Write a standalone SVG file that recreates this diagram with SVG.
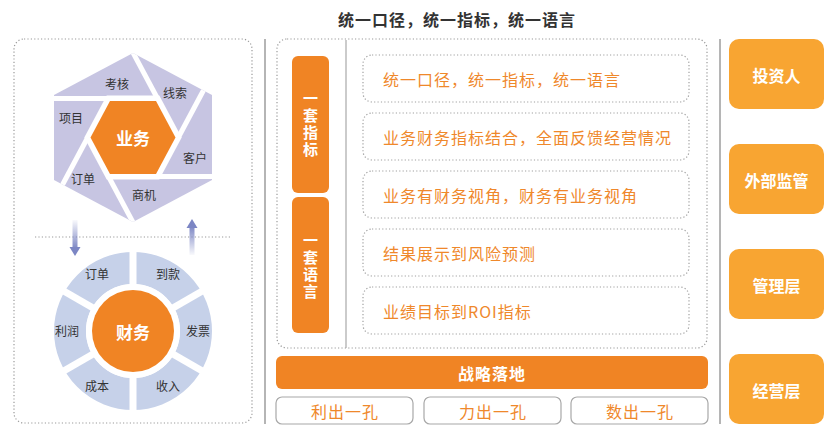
<svg xmlns="http://www.w3.org/2000/svg" width="836" height="436" viewBox="0 0 836 436">
<style>
text{font-family:"Noto Sans CJK SC","Noto Sans",sans-serif;}
.dot{fill:none;stroke:#9a9a9a;stroke-width:1.2;stroke-dasharray:1.2 2.2;}
.vline{stroke:#9c9c9c;stroke-width:1.5;}
.lbl{font-size:12px;fill:#333;text-anchor:middle;dominant-baseline:central;}
.ctr{font-size:17px;font-weight:bold;fill:#fff;text-anchor:middle;dominant-baseline:central;}
.gap{stroke:#fff;stroke-width:5;}
.rgap{stroke:#fff;stroke-width:7;}
.bar{fill:#F08424;}
.bartxt{font-size:15px;font-weight:bold;fill:#fff;text-anchor:middle;writing-mode:vertical-rl;letter-spacing:2px;}
.item{fill:#fff;stroke:#a0a0a0;stroke-width:1.2;stroke-dasharray:1.2 2.2;}
.itxt{font-size:16px;fill:#EF882B;letter-spacing:1px;dominant-baseline:central;}
.btm{fill:#fff;stroke:#a8a8a8;stroke-width:1.2;}
.btxt{font-size:16px;fill:#EF882B;letter-spacing:1px;text-anchor:middle;dominant-baseline:central;}
.rbox{fill:#F8A532;}
.rtxt{font-size:16px;font-weight:bold;fill:#fff;text-anchor:middle;dominant-baseline:central;}
</style>
<defs>
<clipPath id="hexclip"><polygon points="133,53 212,95 212,180 133,222 54,180 54,95"/></clipPath>
<linearGradient id="gdown" x1="0" y1="0" x2="0" y2="1"><stop offset="0" stop-color="#7C86C4" stop-opacity="0.05"/><stop offset="1" stop-color="#7C86C4"/></linearGradient>
<linearGradient id="gup" x1="0" y1="0" x2="0" y2="1"><stop offset="0" stop-color="#7C86C4"/><stop offset="1" stop-color="#7C86C4" stop-opacity="0.05"/></linearGradient>
</defs>

<text x="457" y="19" font-size="16" font-weight="bold" fill="#333" text-anchor="middle" dominant-baseline="central" letter-spacing="1">统一口径，统一指标，统一语言</text>

<g id="frames">
<rect class="dot" x="14" y="39" width="238" height="384" rx="10"/>
<line class="dot" x1="35" y1="237" x2="231" y2="237"/>
<line class="vline" x1="265" y1="39" x2="265" y2="424"/>
<line class="vline" x1="720" y1="39" x2="720" y2="424"/>
<rect class="dot" x="277" y="39" width="430" height="309" rx="10"/>
<line x1="346" y1="40" x2="346" y2="348" stroke="#a8a8a8" stroke-width="1.2"/>
</g>

<g id="business">
<polygon points="133,53 212,95 212,180 133,222 54,180 54,95" fill="#C7C5E2"/>
<g clip-path="url(#hexclip)">
<line class="gap" x1="157.5" y1="98.5" x2="118.5" y2="25.5"/>
<line class="gap" x1="108.5" y1="98.5" x2="30" y2="98.5"/>
<line class="gap" x1="87.7" y1="137.5" x2="48.7" y2="210.5"/>
<line class="gap" x1="108.5" y1="176.5" x2="147.5" y2="249.5"/>
<line class="gap" x1="157.5" y1="176.5" x2="236" y2="176.5"/>
<line class="gap" x1="178.3" y1="137.5" x2="217.3" y2="64.5"/>
</g>
<polygon points="181.7,137.5 159.3,95.5 106.7,95.5 84.3,137.5 106.7,179.5 159.3,179.5" fill="#fff"/>
<polygon points="175.5,137.5 156,101 110,101 90.5,137.5 110,174 156,174" fill="#F08424"/>
<text class="ctr" x="133" y="137.5">业务</text>
<text class="lbl" x="117" y="83">考核</text>
<text class="lbl" x="175" y="92">线索</text>
<text class="lbl" x="71" y="117">项目</text>
<text class="lbl" x="195" y="157">客户</text>
<text class="lbl" x="83" y="178">订单</text>
<text class="lbl" x="144" y="194">商机</text>
</g>

<g id="finance">
<circle cx="133" cy="331" r="63" fill="none" stroke="#C6D1E9" stroke-width="32"/>
<line class="rgap" x1="133" y1="245" x2="133" y2="417"/>
<line class="rgap" x1="55" y1="376" x2="211" y2="286"/>
<line class="rgap" x1="55" y1="286" x2="211" y2="376"/>
<circle cx="133" cy="331" r="47" fill="#fff"/>
<circle cx="133" cy="331" r="41" fill="#F08424"/>
<text class="ctr" x="133" y="331">财务</text>
<text class="lbl" x="97" y="273">订单</text>
<text class="lbl" x="168" y="273">到款</text>
<text class="lbl" x="67" y="330">利润</text>
<text class="lbl" x="198" y="330">发票</text>
<text class="lbl" x="97" y="385">成本</text>
<text class="lbl" x="168" y="385">收入</text>
</g>

<g id="connectors">
<rect x="72.5" y="220" width="5" height="29" fill="url(#gdown)"/>
<polygon points="69.5,247 80.5,247 75,256" fill="#7C86C4"/>
<rect x="189.5" y="226" width="5" height="29" fill="url(#gup)"/>
<polygon points="186.5,228 197.5,228 192,219" fill="#7C86C4"/>
</g>

<g id="bar-metrics">
<rect class="bar" x="292" y="56" width="37" height="137" rx="6"/>
<text class="bartxt" x="310.5" y="125">一套指标</text>
</g>
<g id="bar-language">
<rect class="bar" x="292" y="197" width="37" height="136" rx="6"/>
<text class="bartxt" x="310.5" y="266.5">一套语言</text>
</g>

<g id="item1"><rect class="item" x="363" y="55" width="326" height="47" rx="9"/><text class="itxt" x="383" y="78.5">统一口径，统一指标，统一语言</text></g>
<g id="item2"><rect class="item" x="363" y="113" width="326" height="47" rx="9"/><text class="itxt" x="383" y="136.5">业务财务指标结合，全面反馈经营情况</text></g>
<g id="item3"><rect class="item" x="363" y="171" width="326" height="47" rx="9"/><text class="itxt" x="383" y="194.5">业务有财务视角，财务有业务视角</text></g>
<g id="item4"><rect class="item" x="363" y="229" width="326" height="47" rx="9"/><text class="itxt" x="383" y="252.5">结果展示到风险预测</text></g>
<g id="item5"><rect class="item" x="363" y="287" width="326" height="47" rx="9"/><text class="itxt" x="383" y="310.5">业绩目标到ROI指标</text></g>

<g id="strategy"><rect class="bar" x="276" y="356" width="432" height="33" rx="6"/><text x="492" y="372.5" font-size="16" font-weight="bold" fill="#fff" text-anchor="middle" dominant-baseline="central" letter-spacing="1">战略落地</text></g>

<g id="profit"><rect class="btm" x="276" y="397" width="137" height="27" rx="6"/><text class="btxt" x="345" y="410.5">利出一孔</text></g>
<g id="force"><rect class="btm" x="424" y="397" width="137" height="27" rx="6"/><text class="btxt" x="493" y="410.5">力出一孔</text></g>
<g id="data"><rect class="btm" x="571" y="397" width="137" height="27" rx="6"/><text class="btxt" x="640" y="410.5">数出一孔</text></g>

<g id="investor"><rect class="rbox" x="729" y="39" width="95" height="70" rx="10"/><text class="rtxt" x="776.5" y="75">投资人</text></g>
<g id="regulator"><rect class="rbox" x="729" y="144" width="95" height="70" rx="10"/><text class="rtxt" x="776.5" y="180">外部监管</text></g>
<g id="management"><rect class="rbox" x="729" y="249" width="95" height="70" rx="10"/><text class="rtxt" x="776.5" y="285">管理层</text></g>
<g id="operations"><rect class="rbox" x="729" y="354" width="95" height="70" rx="10"/><text class="rtxt" x="776.5" y="390">经营层</text></g>
</svg>
